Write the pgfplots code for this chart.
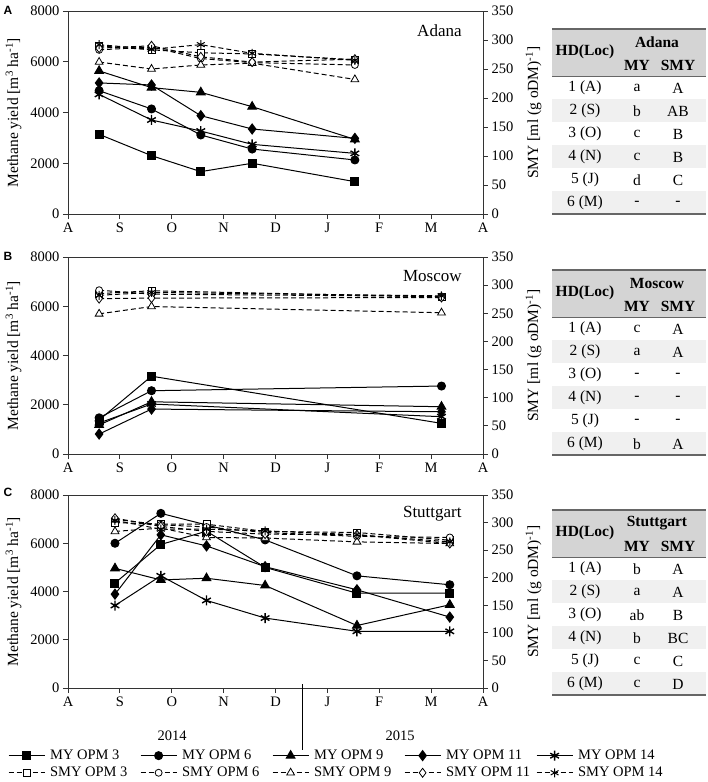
\documentclass[border=0pt]{standalone}
\usepackage{pgfplots}
\pgfplotsset{compat=1.18}
\usepackage{fontspec}
\setmainfont{Liberation Serif}
\newfontfamily\arial{Liberation Sans}
\newcommand{\fs}{\fontsize{14.5}{17}\selectfont}
\newcommand{\fl}{\fontsize{15.5}{18}\selectfont}
\pgfplotsset{
  basemy/.style={black, line width=1pt, solid},
  my3/.style={basemy, mark=square*, mark size=4pt, mark options={solid,fill=black}},
  my6/.style={basemy, mark=*, mark size=4pt, mark options={solid,fill=black}},
  my9/.style={basemy, mark=triangle*, mark size=5pt, mark options={solid,fill=black}},
  my11/.style={basemy, mark=diamond*, mark size=5pt, mark options={solid,fill=black}},
  my14/.style={basemy, mark=asterisk, mark size=5pt, mark options={solid,line width=1.4pt}},
  basesmy/.style={black, line width=1pt, dash pattern=on 5pt off 3pt},
  smy3/.style={basesmy, mark=square*, mark size=3.5pt, mark options={solid,fill=white,line width=0.8pt}},
  smy6/.style={basesmy, mark=*, mark size=3.5pt, mark options={solid,fill=white,line width=0.8pt}},
  smy9/.style={basesmy, mark=triangle*, mark size=4.5pt, mark options={solid,fill=white,line width=0.8pt}},
  smy11/.style={basesmy, mark=diamond*, mark size=4.5pt, mark options={solid,fill=white,line width=0.8pt}},
  smy14/.style={basesmy, mark=asterisk, mark size=4.5pt, mark options={solid,line width=1pt}},
  common/.style={scale only axis, width=415pt, xmin=0, xmax=8, tick align=outside,
    major tick length=5pt, axis line style={black!80, line width=0.9pt},
    every tick/.style={black!80, line width=0.9pt},
    tick label style={font=\fs}, label style={font=\fl},
    /pgf/number format/assume math mode=true, /pgf/number format/1000 sep={},
    clip=false, anchor=south west},
  panelL/.style={common, ymin=0, ymax=8000, ytick={0,2000,...,8000},
    xtick={0,...,8}, xticklabels={A,S,O,N,D,J,F,M,A}, xtick pos=lower, ytick pos=left,
    ylabel={Methane yield [m\textsuperscript{3} ha\textsuperscript{-1}]},
    ylabel style={at={(axis description cs:-0.131,0.5)}, anchor=center}},
  panelR/.style={common, ymin=0, ymax=350, ytick={0,50,...,350},
    axis y line*=right, axis x line=none,
    ylabel={SMY [ml (g oDM)\textsuperscript{-1}]},
    ylabel style={at={(axis description cs:1.122,0.5)}, anchor=center}},
}
\newcommand{\loctab}[3]{%
\begin{scope}[yshift=-#1pt]\begin{scope}[x=1pt,y=-1pt]
  \fill[black!17] (552,0) rectangle (706,47);
  \foreach \r in {2,4,6} \fill[black!6] (552,{47+23*(\r-1)}) rectangle (706,{47+23*\r});
  \draw[black!60, line width=1.2pt] (552,0) -- (706,0);
  \draw[black!60, line width=0.8pt] (552,47) -- (706,47);
  \draw[black!60, line width=1.2pt] (552,185) -- (706,185);
  \node[font=\fl\bfseries] at (585,23) {HD(Loc)};
  \node[font=\fl\bfseries] at (657,13) {#2};
  \node[font=\fl\bfseries] at (637,36) {MY};
  \node[font=\fl\bfseries] at (678,36) {SMY};
  \foreach \r/\lab/\a/\b in {#3} {
    \node[font=\fl] at (585,{47+23*\r-11}) {\r\ (\lab)};
    \node[font=\fl] at (637,{47+23*\r-11}) {\a};
    \node[font=\fl] at (678,{47+23*\r-11}) {\b};
  }
\end{scope}\end{scope}}
\begin{document}
\begin{tikzpicture}
\path[use as bounding box] (0,0) rectangle (708pt,-782pt);

% ---------------- Panel A: Adana
\begin{axis}[panelL, at={(68pt,-214pt)}, height=203pt]
\addplot[my3] coordinates {(0.60,3140) (1.61,2300) (2.56,1670) (3.55,2000) (5.53,1275)};
\addplot[my6] coordinates {(0.60,4860) (1.61,4140) (2.56,3115) (3.55,2560) (5.53,2130)};
\addplot[my9] coordinates {(0.60,5640) (1.61,4980) (2.56,4795) (3.55,4230) (5.53,2940)};
\addplot[my11] coordinates {(0.60,5165) (1.61,5085) (2.56,3875) (3.55,3350) (5.53,2980)};
\addplot[my14] coordinates {(0.60,4715) (1.61,3705) (2.56,3270) (3.55,2745) (5.53,2390)};
\node[anchor=east, font=\fontsize{17}{20}\selectfont] at (rel axis cs:0.957,0.905) {Adana};
\end{axis}
\begin{axis}[panelR, at={(68pt,-214pt)}, height=203pt]
\addplot[smy3] coordinates {(0.60,290) (1.61,283) (2.56,278) (3.55,276) (5.53,266)};
\addplot[smy6] coordinates {(0.60,283) (1.61,288) (2.56,268) (3.55,261) (5.53,257)};
\addplot[smy9] coordinates {(0.60,262) (1.61,250) (2.56,257) (3.55,260) (5.53,232)};
\addplot[smy11] coordinates {(0.60,286) (1.61,290) (2.56,271) (3.55,262) (5.53,267)};
\addplot[smy14] coordinates {(0.60,292) (1.61,284) (2.56,292) (3.55,277) (5.53,265)};
\end{axis}

% ---------------- Panel B: Moscow
\begin{axis}[panelL, at={(68pt,-454pt)}, height=197pt]
\addplot[my3] coordinates {(0.60,1380) (1.61,3160) (7.2,1245)};
\addplot[my6] coordinates {(0.60,1470) (1.61,2570) (7.2,2760)};
\addplot[my9] coordinates {(0.60,1180) (1.61,2120) (7.2,1920)};
\addplot[my11] coordinates {(0.60,810) (1.61,1825) (7.2,1715)};
\addplot[my14] coordinates {(0.60,1260) (1.61,2030) (7.2,1515)};
\node[anchor=east, font=\fontsize{17}{20}\selectfont] at (rel axis cs:0.957,0.905) {Moscow};
\end{axis}
\begin{axis}[panelR, at={(68pt,-454pt)}, height=197pt]
\addplot[smy3] coordinates {(0.60,285) (1.61,290) (7.2,279)};
\addplot[smy6] coordinates {(0.60,291) (1.61,284) (7.2,280)};
\addplot[smy9] coordinates {(0.60,249) (1.61,262) (7.2,251)};
\addplot[smy11] coordinates {(0.60,276) (1.61,277) (7.2,278)};
\addplot[smy14] coordinates {(0.60,282) (1.61,287) (7.2,281)};
\end{axis}

% ---------------- Panel C: Stuttgart
\begin{axis}[panelL, at={(68pt,-688pt)}, height=193pt]
\addplot[my3] coordinates {(0.906,4350) (1.79,5950) (2.67,6500) (3.80,5000) (5.57,3930) (7.36,3930)};
\addplot[my6] coordinates {(0.906,6000) (1.79,7240) (2.67,6760) (3.80,6140) (5.57,4650) (7.36,4280)};
\addplot[my9] coordinates {(0.906,4960) (1.79,4480) (2.67,4550) (3.80,4250) (5.57,2590) (7.36,3450)};
\addplot[my11] coordinates {(0.906,3890) (1.79,6350) (2.67,5890) (3.80,5030) (5.57,4070) (7.36,2940)};
\addplot[my14] coordinates {(0.906,3420) (1.79,4650) (2.67,3630) (3.80,2900) (5.57,2350) (7.36,2350)};
\node[anchor=east, font=\fontsize{17}{20}\selectfont] at (rel axis cs:0.957,0.905) {Stuttgart};
\end{axis}
\begin{axis}[panelR, at={(68pt,-688pt)}, height=193pt,
  legend columns=5, legend cell align=left,
  legend style={at={(axis description cs:-0.152,-0.300)}, anchor=north west, draw=none, fill=none,
    font=\fs, /tikz/every even column/.append style={column sep=12pt}, row sep=2pt},
  legend image code/.code={\draw[mark repeat=2,mark phase=2,#1] plot coordinates {(0pt,0pt) (18pt,0pt) (36pt,0pt)};}]
\addlegendimage{my3}\addlegendentry{\hspace{3pt}\makebox[76pt][l]{MY OPM 3}}
\addlegendimage{my6}\addlegendentry{\hspace{3pt}\makebox[76pt][l]{MY OPM 6}}
\addlegendimage{my9}\addlegendentry{\hspace{3pt}\makebox[76pt][l]{MY OPM 9}}
\addlegendimage{my11}\addlegendentry{\hspace{3pt}\makebox[76pt][l]{MY OPM 11}}
\addlegendimage{my14}\addlegendentry{\hspace{3pt}\makebox[76pt][l]{MY OPM 14}}
\addplot[smy3] coordinates {(0.906,300) (1.79,297) (2.67,297) (3.80,284) (5.57,282) (7.36,268)};
\addlegendentry{\hspace{3pt}\makebox[76pt][l]{SMY OPM 3}}
\addplot[smy6] coordinates {(0.906,306) (1.79,296) (2.67,292) (3.80,282) (5.57,275) (7.36,273)};
\addlegendentry{\hspace{3pt}\makebox[76pt][l]{SMY OPM 6}}
\addplot[smy9] coordinates {(0.906,284) (1.79,290) (2.67,273) (3.80,272) (5.57,265) (7.36,262)};
\addlegendentry{\hspace{3pt}\makebox[76pt][l]{SMY OPM 9}}
\addplot[smy11] coordinates {(0.906,308) (1.79,293) (2.67,284) (3.80,279) (5.57,278) (7.36,262)};
\addlegendentry{\hspace{3pt}\makebox[76pt][l]{SMY OPM 11}}
\addplot[smy14] coordinates {(0.906,304) (1.79,288) (2.67,288) (3.80,285) (5.57,278) (7.36,265)};
\addlegendentry{\hspace{3pt}\makebox[76pt][l]{SMY OPM 14}}
\end{axis}

% ---------------- annotations in pixel coordinates
\begin{scope}[x=1pt,y=-1pt]
  \node[font=\arial\bfseries\fontsize{12}{14}\selectfont] at (8,10) {A};
  \node[font=\arial\bfseries\fontsize{12}{14}\selectfont] at (8,256) {B};
  \node[font=\arial\bfseries\fontsize{12}{14}\selectfont] at (8,492) {C};
  \draw[black, line width=1pt] (302,684) -- (302,750);
  \node[font=\fs] at (172,736) {2014};
  \node[font=\fs] at (400,736) {2015};
\end{scope}

\loctab{29}{Adana}{1/A/a/A, 2/S/b/AB, 3/O/c/B, 4/N/c/B, 5/J/d/C, 6/M/-/-}
\loctab{270}{Moscow}{1/A/c/A, 2/S/a/A, 3/O/-/-, 4/N/-/-, 5/J/-/-, 6/M/b/A}
\loctab{510}{Stuttgart}{1/A/b/A, 2/S/a/A, 3/O/ab/B, 4/N/b/BC, 5/J/c/C, 6/M/c/D}
\end{tikzpicture}
\end{document}
